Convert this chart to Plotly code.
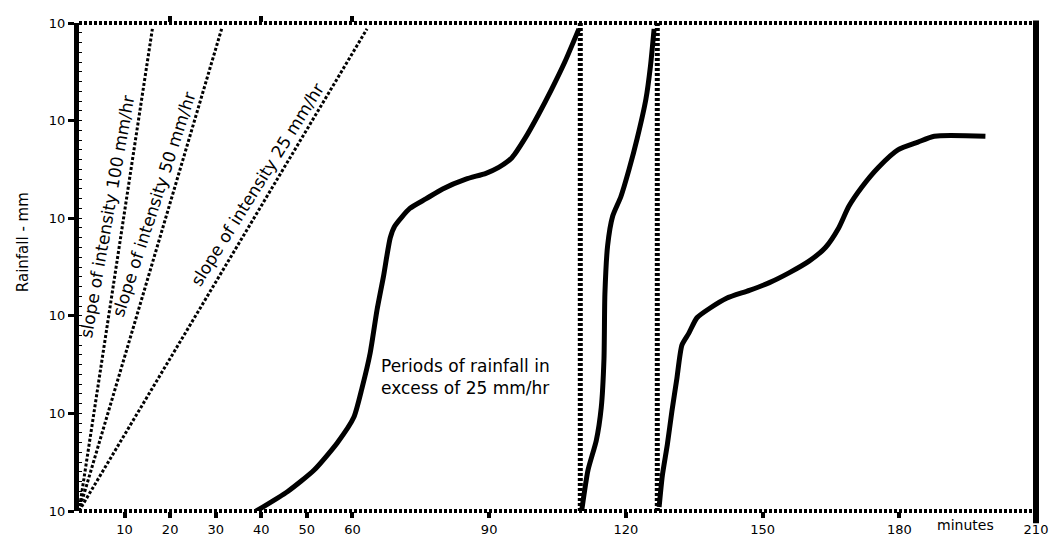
import plotly.graph_objects as go

# ---- data ----
# cumulative rainfall mass curve, three passes of the siphon chart
seg1_t = [38.9, 45.8, 51.6, 56.7, 60.3, 62.1, 63.9, 65.4, 66.8, 68.3, 69.3, 72.6, 76.2,
          79.8, 84.9, 89.3, 92.1, 95.0, 97.9, 100.8, 103.7, 106.6, 109.7]
seg1_mm = [0.0, 1.0, 2.1, 3.5, 4.8, 6.3, 8.1, 10.3, 12.0, 14.0, 14.6, 15.5, 16.0,
           16.5, 17.0, 17.3, 17.6, 18.1, 19.1, 20.3, 21.6, 23.0, 24.7]
seg2_t = [110.3, 111.7, 113.5, 114.6, 115.2, 115.4, 116.0, 117.1, 118.9, 120.7, 122.5,
          124.4, 125.4, 126.2]
seg2_mm = [0.0, 2.1, 3.6, 5.3, 7.8, 11.1, 13.6, 15.1, 16.1, 17.5, 19.1, 21.1, 22.8, 24.7]
seg3_t = [127.3, 128.0, 129.1, 130.1, 131.2, 132.3, 133.8, 135.6, 138.5, 142.1, 147.1,
          151.5, 155.8, 160.2, 163.8, 166.7, 168.9, 171.8, 175.4, 179.7, 184.1, 187.7, 198.9]
seg3_mm = [0.2, 1.8, 3.4, 5.1, 6.8, 8.5, 9.1, 9.9, 10.4, 10.9, 11.3, 11.7, 12.2, 12.8,
           13.5, 14.5, 15.6, 16.6, 17.6, 18.5, 18.9, 19.2, 19.2]

# siphon emptying times (vertical lines)
siphon_t = [110.0, 126.9]

# reference intensity slopes: end points of each line (start at origin)
slope_labels = ["slope of intensity 100 mm/hr", "slope of intensity 50 mm/hr",
                "slope of intensity 25 mm/hr"]
slope_end_t = [16.1, 31.3, 63.2]
slope_end_mm = [24.7, 24.7, 24.7]

# axis ticks
x_tick_vals = [10, 20, 30, 40, 50, 60, 90, 120, 150, 180, 210]
x_tick_text = ["10", "20", "30", "40", "50", "60", "90", "120", "150", "180", "210"]
x_top_tick_vals = [20, 40, 60]
y_tick_vals = [0, 5, 10, 15, 20, 25]
y_tick_text = ["10", "10", "10", "10", "10", "10"]
x_range = [0, 210]
y_range = [0, 25]

FONT = "DejaVu Sans"

fig = go.Figure()

# intensity slope lines (on top-tick axis that matches the bottom one)
for te, me in zip(slope_end_t, slope_end_mm):
    fig.add_trace(go.Scatter(x=[0, te], y=[0, me], mode="lines", xaxis="x2",
                             line=dict(color="black", width=3, dash="3px,2px"),
                             hoverinfo="skip", showlegend=False))

# siphon lines
for st in siphon_t:
    fig.add_trace(go.Scatter(x=[st, st], y=y_range, mode="lines",
                             line=dict(color="black", width=5, dash="3px,2px"),
                             hoverinfo="skip", showlegend=False))

# mass curve segments
for tt, mm in [(seg1_t, seg1_mm), (seg2_t, seg2_mm), (seg3_t, seg3_mm)]:
    fig.add_trace(go.Scatter(x=tt, y=mm, mode="lines",
                             line=dict(color="black", width=5, shape="spline", smoothing=0.6),
                             showlegend=False))

annotations = []
slope_pos = [(6.25, 15.1, -80), (16.3, 15.7, -72), (39.1, 16.7, -58)]
for lab, (ax_, ay_, ang) in zip(slope_labels, slope_pos):
    annotations.append(dict(x=ax_, y=ay_, xref="x", yref="y", text=lab, textangle=ang,
                            showarrow=False, xanchor="center", yanchor="middle",
                            font=dict(family=FONT, size=17, color="black")))

annotations.append(dict(x=65.8, y=6.86, xref="x", yref="y",
                        text="Periods of rainfall in<br>excess of 25 mm/hr",
                        showarrow=False, xanchor="left", yanchor="middle", align="left",
                        font=dict(family=FONT, size=17, color="black")))
annotations.append(dict(x=194.6, y=-0.028, xref="x", yref="paper", text="minutes",
                        showarrow=False, xanchor="center", yanchor="middle",
                        font=dict(family=FONT, size=14, color="black")))
annotations.append(dict(x=-0.059, y=0.55, xref="paper", yref="paper", text="Rainfall - mm",
                        textangle=-90, showarrow=False, xanchor="center", yanchor="middle",
                        font=dict(family=FONT, size=15, color="black")))

shapes = [
    # dotted top and bottom borders
    dict(type="line", xref="paper", yref="paper", x0=0, x1=1, y0=1, y1=1,
         line=dict(color="black", width=4, dash="3px,2px")),
    dict(type="line", xref="paper", yref="paper", x0=0, x1=1, y0=0, y1=0,
         line=dict(color="black", width=4, dash="3px,2px")),
    # solid right border
    dict(type="line", xref="paper", yref="paper", x0=1, x1=1, y0=-0.025, y1=1.005,
         line=dict(color="black", width=6)),
]

fig.update_layout(
    width=1060, height=549,
    margin=dict(l=79, r=14, t=23, b=27),
    paper_bgcolor="white", plot_bgcolor="white",
    font=dict(family=FONT, color="black"),
    showlegend=False,
    annotations=annotations,
    shapes=shapes,
    xaxis=dict(range=x_range, tickvals=x_tick_vals, ticktext=x_tick_text,
               ticks="outside", ticklen=6, tickwidth=4, tickcolor="black",
               showline=False, showgrid=False, zeroline=False,
               tickfont=dict(family=FONT, size=13, color="black")),
    xaxis2=dict(range=x_range, overlaying="x", side="top", anchor="y",
                tickvals=x_top_tick_vals, ticks="outside", ticklen=6, tickwidth=4,
                tickcolor="black", showticklabels=False, showline=False,
                showgrid=False, zeroline=False),
    yaxis=dict(range=y_range, tickvals=y_tick_vals, ticktext=y_tick_text,
               ticks="outside", ticklen=6, tickwidth=3, tickcolor="black",
               showline=True, linewidth=5, linecolor="black",
               showgrid=False, zeroline=False,
               minor=dict(ticks="inside", dtick=0.5, ticklen=3, tickwidth=1,
                          tickcolor="black"),
               tickfont=dict(family=FONT, size=13, color="black")),
)

fig.write_html("out.html", config={"displayModeBar": False},
               post_script="document.body.style.margin='0';document.body.style.overflow='hidden';")
